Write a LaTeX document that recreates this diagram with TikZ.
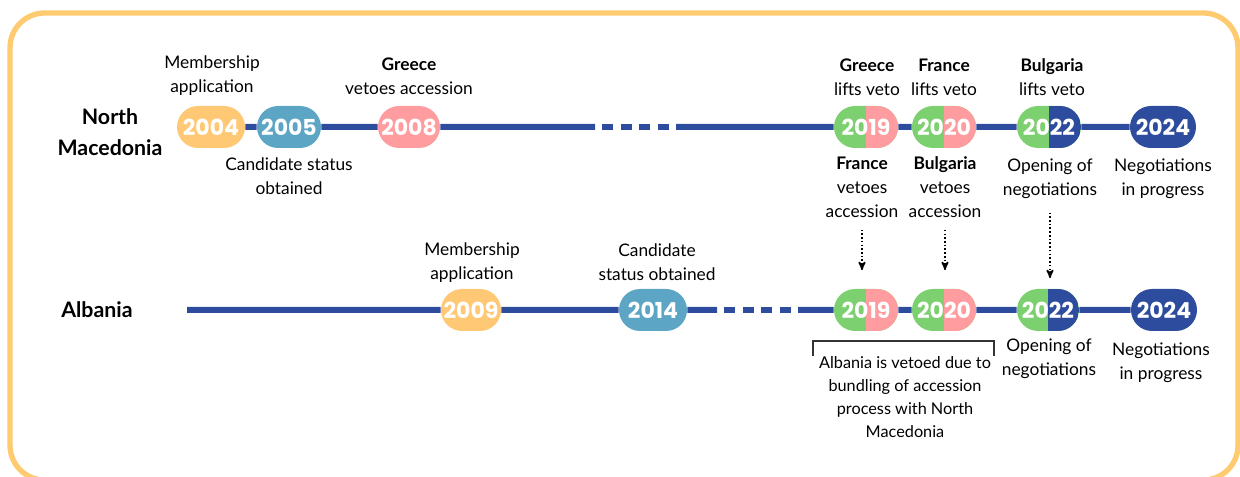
\documentclass[tikz,border=0pt]{standalone}
\usepackage{fontspec}
\setmainfont{Lato}
\newfontfamily\yearfont{Poppins}
\usetikzlibrary{arrows,shapes.misc}

\definecolor{tlyellow}{HTML}{FFC874}
\definecolor{tlteal}{HTML}{5DA5C5}
\definecolor{tlpink}{HTML}{FF9C9F}
\definecolor{tlgreen}{HTML}{7DD06F}
\definecolor{tlnavy}{HTML}{2E4C9E}
\definecolor{tlframe}{HTML}{FFCB70}

\begin{document}
\begin{tikzpicture}[x=0.75pt,y=-0.75pt,>=stealth',
    year/.style={rounded rectangle,fill=#1,minimum width=48pt,minimum height=31.5pt,
      inner sep=0pt,text=white,font=\yearfont\bfseries\fontsize{16.5}{16.5}\selectfont},
    split year/.style 2 args={year=#1,path picture={
      \fill[#2] (path picture bounding box.north) rectangle (path picture bounding box.south east);}},
    event/.style={align=center,inner sep=0pt,font=\fontsize{13}{18}\selectfont},
    country/.style={align=center,inner sep=0pt,font=\bfseries\fontsize{16}{23}\selectfont},
    timeline/.style={draw=tlnavy,line width=4.5pt},
    tlgap/.style={timeline,dash pattern=on 8.25pt off 5.6pt,dash phase=8.25pt},
    veto arrow/.style={->,line width=1.2pt,dash pattern=on 1.2pt off 1.6pt},
    bracket/.style={draw=black!80,line width=0.8pt},
    frame/.style={draw=tlframe,line width=4pt,rounded corners=26pt}]

  \useasboundingbox (0,0) rectangle (1240,477);
  \begin{scope}
    \clip (0,0) rectangle (1240,477);
    \draw[frame] (10,13) rectangle (1238,480);
  \end{scope}

  % North Macedonia
  \node[country] (nmname) at (110,132) {North\\Macedonia};
  \node[year=tlyellow,minimum width=51pt] (nm04) at (211,127) {2004};
  \node[year=tlteal] (nm05) at (289,127) {2005};
  \node[year=tlpink,minimum width=46.5pt] (nm08) at (409,127) {2008};
  \node[split year={tlgreen}{tlpink}] (nm19) at (866,127) {2019};
  \node[split year={tlgreen}{tlpink}] (nm20) at (944,127) {2020};
  \node[split year={tlgreen}{tlnavy}] (nm22) at (1049,127) {2022};
  \node[year=tlnavy,minimum width=49.5pt] (nm24) at (1163,127) {2024};

  \node[event] (nm04txt) at (212,76) {Membership\\application};
  \node[event] (nm05txt) at (289,176) {Candidate status\\obtained};
  \node[event] (nm08txt) at (409,76) {\textbf{Greece}\\vetoes accession};
  \node[event] (nm19top) at (867,77) {\textbf{Greece}\\lifts veto};
  \node[event] (nm20top) at (944,77) {\textbf{France}\\lifts veto};
  \node[event] (nm22top) at (1052,77) {\textbf{Bulgaria}\\lifts veto};
  \node[event] (nm19txt) at (862,187) {\textbf{France}\\vetoes\\accession};
  \node[event] (nm20txt) at (945,187) {\textbf{Bulgaria}\\vetoes\\accession};
  \node[event] (nm22txt) at (1050,179) {Opening of\\negotiations};
  \node[event] (nm24txt) at (1163,179) {Negotiations\\in progress};

  \coordinate (nmcut1) at (595,127);
  \coordinate (nmcut2) at (676,127);
  \draw[timeline] (nm04) -- (nm05) (nm05) -- (nm08) (nm08) -- (nmcut1)
    (nmcut2) -- (nm19) (nm19) -- (nm20) (nm20) -- (nm22) (nm22) -- (nm24);
  \draw[tlgap] (nmcut1) -- (nmcut2);

  % Albania
  \node[country] (alname) at (97,310) {Albania};
  \node[year=tlyellow,minimum width=45pt] (al09) at (471,310) {2009};
  \node[year=tlteal,minimum width=51pt] (al14) at (653,310) {2014};
  \node[split year={tlgreen}{tlpink}] (al19) at (866,310) {2019};
  \node[split year={tlgreen}{tlpink}] (al20) at (944,310) {2020};
  \node[split year={tlgreen}{tlnavy},minimum width=46.5pt] (al22) at (1048,310) {2022};
  \node[year=tlnavy,minimum width=49.5pt] (al24) at (1164,310) {2024};

  \node[event] (al09txt) at (472,263) {Membership\\application};
  \node[event] (al14txt) at (657,262) {Candidate\\status obtained};
  \node[event] (al22txt) at (1049,359) {Opening of\\negotiations};
  \node[event] (al24txt) at (1161,363) {Negotiations\\in progress};
  \node[event,font=\fontsize{12.2}{17.25}\selectfont] (vetonote) at (905,397)
    {Albania is vetoed due to\\bundling of accession\\process with North\\Macedonia};
  \draw[bracket] (813,356) |- (994,341) -- (994,356);

  \coordinate (alstart) at (187,310);
  \coordinate (alcut1) at (717,310);
  \coordinate (alcut2) at (798,310);
  \draw[timeline] (alstart) -- (al09) (al09) -- (al14) (al14) -- (alcut1)
    (alcut2) -- (al19) (al19) -- (al20) (al20) -- (al22) (al22) -- (al24);
  \draw[tlgap] (alcut1) -- (alcut2);

  % vetoes carried over to Albania
  \draw[veto arrow,shorten <=9pt,shorten >=14pt] (nm19txt.south) -- (nm19txt.south |- al19.north);
  \draw[veto arrow,shorten <=9pt,shorten >=14pt] (nm20txt.south) -- (nm20txt.south |- al20.north);
  \draw[veto arrow,shorten <=10pt,shorten >=8pt] (nm22txt.south) -- (nm22txt.south |- al22.north);
\end{tikzpicture}
\end{document}
